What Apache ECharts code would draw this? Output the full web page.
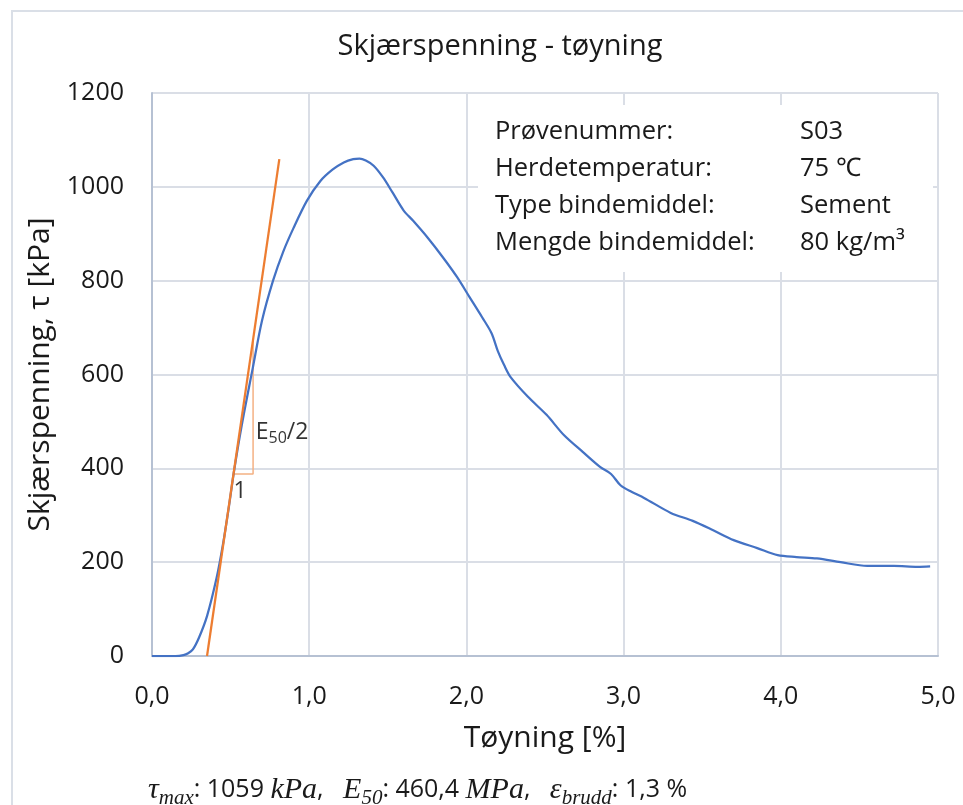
<!DOCTYPE html>
<html>
<head>
<meta charset="utf-8">
<script src="https://cdn.jsdelivr.net/npm/echarts@6/dist/echarts.min.js"></script>
<style>
  html, body { margin: 0; padding: 0; background: #fff; }
  #chart { width: 963px; height: 805px; }
</style>
</head>
<body>
<div id="chart"></div>
<script>
// Shear stress vs. strain, sample S03
const strain = [0, 0.15, 0.2, 0.23, 0.26, 0.30, 0.35, 0.41, 0.45, 0.49, 0.52, 0.57, 0.64, 0.70, 0.77, 0.835, 0.90, 0.985, 1.07, 1.15, 1.22, 1.28, 1.32, 1.36, 1.41, 1.47, 1.53, 1.60, 1.66, 1.75, 1.85, 1.94, 2.02, 2.10, 2.16, 2.20, 2.24, 2.28, 2.39, 2.51, 2.62, 2.74, 2.85, 2.92, 2.98, 3.05, 3.13, 3.30, 3.44, 3.57, 3.70, 3.85, 3.98, 4.10, 4.23, 4.38, 4.55, 4.72, 4.87, 4.95];
const stress = [0, 0, 2, 6, 14, 40, 85, 165, 235, 320, 390, 490, 612, 715, 800, 862, 912, 970, 1012, 1037, 1052, 1059, 1060, 1056, 1045, 1020, 988, 950, 928, 893, 850, 808, 765, 722, 688, 650, 620, 595, 553, 514, 471, 435, 403, 388, 364, 350, 337, 305, 288, 268, 247, 230, 215, 211, 208, 200, 192, 192, 190, 191];

// Secant line with slope E50/2 and its slope triangle
const secantX = [0.35, 0.81];
const secantY = [0, 1059];
const triangleX = [0.519, 0.643, 0.643];
const triangleY = [388, 388, 674];

// Axis ticks
const xTicks = { min: 0, max: 5, interval: 1 };
const yTicks = { min: 0, max: 1200, interval: 200 };

// Sample information
const infoLabels = ['Prøvenummer:', 'Herdetemperatur:', 'Type bindemiddel:', 'Mengde bindemiddel:'];
const infoValues = ['S03', '75 \u2103', 'Sement', '80 kg/m\u00B3'];

const zip = (a, b) => a.map((v, i) => [v, b[i]]);

const FONT = 'Open Sans';
const TXT = '#1a1a1a';

const chart = echarts.init(document.getElementById('chart'), null, { renderer: 'canvas' });

const infoTop = 132, infoStep = 37;
const infoGraphics = [];
infoLabels.forEach((t, i) => {
  infoGraphics.push({
    type: 'text', z: 11, x: 495, y: infoTop + i * infoStep,
    style: { text: t, fill: TXT, font: '25.5px "' + FONT + '"', textVerticalAlign: 'middle', verticalAlign: 'middle' }
  });
  infoGraphics.push({
    type: 'text', z: 11, x: 800, y: infoTop + i * infoStep,
    style: { text: infoValues[i], fill: TXT, font: '25.5px "' + FONT + '"', textVerticalAlign: 'middle', verticalAlign: 'middle' }
  });
});

chart.setOption({
  animation: false,
  backgroundColor: '#fff',
  textStyle: { fontFamily: FONT },
  title: {
    text: 'Skjærspenning - tøyning',
    left: 495, top: 27, textAlign: 'center',
    textStyle: { fontFamily: FONT, fontSize: 29, fontWeight: 'normal', color: TXT }
  },
  grid: { left: 152, top: 93, right: 25, bottom: 149 },
  xAxis: {
    type: 'value', min: xTicks.min, max: xTicks.max, interval: xTicks.interval,
    name: 'Tøyning [%]', nameLocation: 'middle', nameGap: 67,
    nameTextStyle: { fontFamily: FONT, fontSize: 30, color: TXT },
    axisLine: { show: true, lineStyle: { color: '#b6c1d3', width: 2 } },
    axisTick: { show: false },
    axisLabel: { margin: 28, fontSize: 25, color: TXT, fontFamily: FONT,
      formatter: v => v.toFixed(1).replace('.', ',') },
    splitLine: { show: true, lineStyle: { color: '#dadee6', width: 2 } }
  },
  yAxis: {
    type: 'value', min: yTicks.min, max: yTicks.max, interval: yTicks.interval,
    name: 'Skjærspenning, τ [kPa]', nameLocation: 'middle', nameGap: 94,
    nameTextStyle: { fontFamily: FONT, fontSize: 30, color: TXT },
    axisLine: { show: true, lineStyle: { color: '#b6c1d3', width: 2 } },
    axisTick: { show: false },
    axisLabel: { margin: 28, fontSize: 25, color: TXT, fontFamily: FONT,
      formatter: v => String(v) },
    splitLine: { show: true, lineStyle: { color: '#dadee6', width: 2 } }
  },
  graphic: [
    { type: 'rect', z: -10, silent: true,
      shape: { x: 12, y: 11, width: 1000, height: 900 },
      style: { fill: 'none', stroke: '#dadfe7', lineWidth: 2 } },
    { type: 'rect', z: 10, silent: true,
      shape: { x: 478, y: 105, width: 455, height: 167 },
      style: { fill: '#ffffff' } },
    ...infoGraphics,
    { type: 'text', z: 11, x: 148, y: 790,
      style: {
        text: '{t|τ}{s|max}{n|: 1059 }{t|kPa}{n|,   }{t|E}{s|50}{n|: 460,4 }{t|MPa}{n|,   }{t|ε}{s|brudd}{n|: 1,3 %}',
        verticalAlign: 'middle', textVerticalAlign: 'middle',
        rich: {
          t: { fontFamily: 'Liberation Serif', fontStyle: 'italic', fontSize: 30, fill: TXT, lineHeight: 38, verticalAlign: 'middle' },
          s: { fontFamily: 'Liberation Serif', fontStyle: 'italic', fontSize: 21, fill: TXT, lineHeight: 38, verticalAlign: 'bottom' },
          n: { fontFamily: FONT, fontSize: 25, fill: TXT, lineHeight: 38, verticalAlign: 'middle' }
        }
      } }
  ],
  series: [
    {
      name: 'τ', type: 'line', data: zip(strain, stress), smooth: 0.3,
      showSymbol: false, z: 3,
      lineStyle: { color: '#4472c4', width: 2.25 }
    },
    {
      name: 'E50/2', type: 'line', data: zip(secantX, secantY),
      showSymbol: false, z: 4,
      lineStyle: { color: '#ed7d31', width: 2.25 }
    },
    {
      name: 'triangle', type: 'line', data: zip(triangleX, triangleY),
      showSymbol: false, z: 2,
      lineStyle: { color: '#f4b183', width: 1.5 }
    },
    {
      name: 'labels', type: 'scatter', symbolSize: 0, z: 5,
      data: [
        { value: [0.66, 477], label: { formatter: '{e|E}{s|50}{e|/2}', position: 'right', distance: 0 } },
        { value: [0.56, 351], label: { formatter: '{e|1}', position: 'inside' } }
      ],
      label: {
        show: true, color: '#000',
        rich: {
          e: { fontFamily: FONT, fontSize: 23, color: '#000', lineHeight: 28, verticalAlign: 'middle' },
          s: { fontFamily: FONT, fontSize: 16, color: '#000', lineHeight: 28, verticalAlign: 'bottom' }
        }
      },
      emphasis: { disabled: true }
    }
  ]
});
</script>
</body>
</html>
